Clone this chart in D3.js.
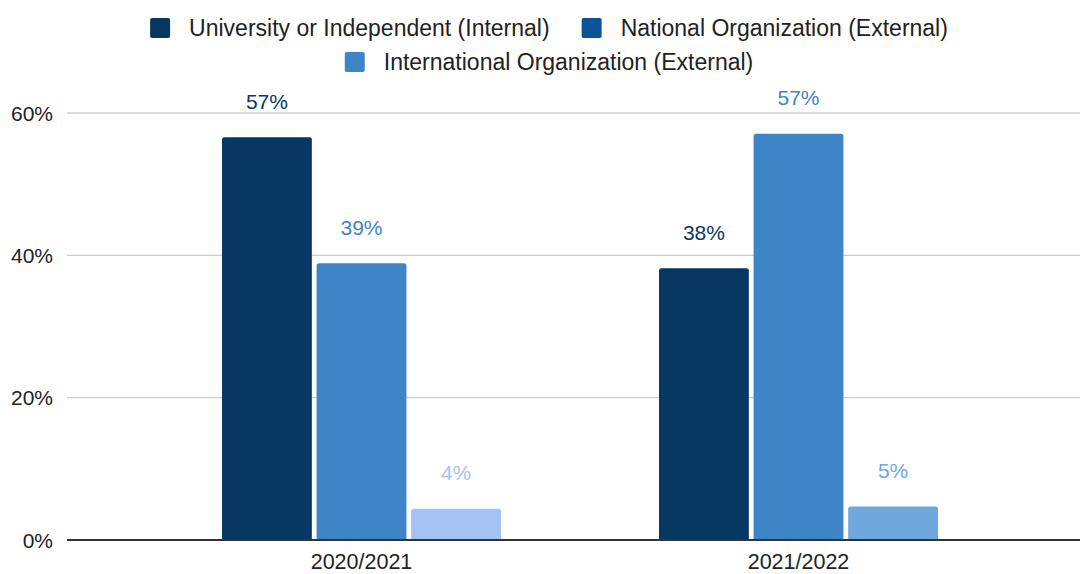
<!DOCTYPE html>
<html>
<head>
<meta charset="utf-8">
<script src="https://cdn.jsdelivr.net/npm/d3@7"></script>
<style>
  html, body { margin: 0; padding: 0; background: #fff; }
  svg { display: block; font-family: "Liberation Sans", Arial, sans-serif; }
</style>
</head>
<body>
<svg id="chart" width="1082" height="574"></svg>
<script>
// categorías y series
const years = ['2020/2021', '2021/2022'];
const series = ['University or Independent (Internal)', 'National Organization (External)', 'International Organization (External)'];
const legendColors = ['#073763', '#0b5394', '#3d85c6'];
// valores (%) por año, en el orden de las series
const vals2020 = [56.6, 38.9, 4.4];
const vals2021 = [38.2, 57.1, 4.7];
const barColors2020 = ['#073763', '#3d85c6', '#a4c2f4'];
const barColors2021 = ['#073763', '#3d85c6', '#6fa8dc'];
const yTicks = [0, 20, 40, 60];

const rows = [
  { year: years[0], vals: vals2020, cols: barColors2020 },
  { year: years[1], vals: vals2021, cols: barColors2021 },
];

const svg = d3.select('#chart');
const plotL = 67, plotR = 1080;

const y = d3.scaleLinear().domain([0, 60]).range([540, 113]);
const x0 = d3.scaleBand().domain(years).range([143, 1017]).padding(0);
const x1 = d3.scaleBand().domain(series).range([79, 358]).paddingInner(0.05);

// rejilla
svg.append('g').selectAll('line')
  .data(yTicks.filter(t => t > 0)).join('line')
  .attr('x1', plotL).attr('x2', plotR)
  .attr('y1', d => y(d)).attr('y2', d => y(d))
  .attr('stroke', '#cccccc').attr('stroke-width', 1.3);

// etiquetas eje Y
svg.append('g').selectAll('text')
  .data(yTicks).join('text')
  .attr('x', 53).attr('y', d => y(d) + 7.5)
  .attr('text-anchor', 'end')
  .style('font-size', '21px').attr('fill', '#222')
  .text(d => d + '%');

// barras con esquinas superiores redondeadas
function topRounded(x, yy, w, h, r) {
  r = Math.min(r, h);
  return `M${x},${yy + h}V${yy + r}Q${x},${yy} ${x + r},${yy}H${x + w - r}Q${x + w},${yy} ${x + w},${yy + r}V${yy + h}Z`;
}

const groups = svg.append('g').selectAll('g')
  .data(rows).join('g')
  .attr('transform', d => `translate(${x0(d.year)},0)`);

groups.selectAll('path')
  .data(d => d.vals.map((v, i) => ({ v, s: series[i], c: d.cols[i] }))).join('path')
  .attr('d', d => topRounded(x1(d.s), y(d.v), x1.bandwidth(), y(0) - y(d.v), 2.5))
  .attr('fill', d => d.c);

groups.selectAll('text')
  .data(d => d.vals.map((v, i) => ({ v, s: series[i], c: d.cols[i] }))).join('text')
  .attr('x', d => x1(d.s) + x1.bandwidth() / 2)
  .attr('y', d => y(d.v) - 28.5)
  .attr('text-anchor', 'middle')
  .style('font-size', '21px')
  .attr('fill', d => d.c)
  .text(d => Math.round(d.v) + '%');

// línea base
svg.append('line')
  .attr('x1', plotL).attr('x2', plotR)
  .attr('y1', y(0)).attr('y2', y(0))
  .attr('stroke', '#333').attr('stroke-width', 2);

// etiquetas eje X
svg.append('g').selectAll('text')
  .data(years).join('text')
  .attr('x', d => x0(d) + x0.bandwidth() / 2)
  .attr('y', 569)
  .attr('text-anchor', 'middle')
  .style('font-size', '21.5px').attr('fill', '#222')
  .text(d => d);

// leyenda (dos filas centradas)
const legendRows = [[0, 1], [2]];
const legendY = [28, 62];
const cx = 549;
legendRows.forEach((idxs, r) => {
  const g = svg.append('g');
  let xx = 0;
  idxs.forEach((i, k) => {
    if (k > 0) xx += 32;
    g.append('rect').attr('x', xx).attr('y', legendY[r] - 10)
      .attr('width', 20).attr('height', 20).attr('rx', 2)
      .attr('fill', legendColors[i]);
    xx += 39;
    const t = g.append('text').attr('x', xx).attr('y', legendY[r] + 8)
      .style('font-size', '23px').attr('fill', '#222').text(series[i]);
    xx += t.node().getComputedTextLength();
  });
  g.attr('transform', `translate(${cx - xx / 2},0)`);
});
</script>
</body>
</html>
